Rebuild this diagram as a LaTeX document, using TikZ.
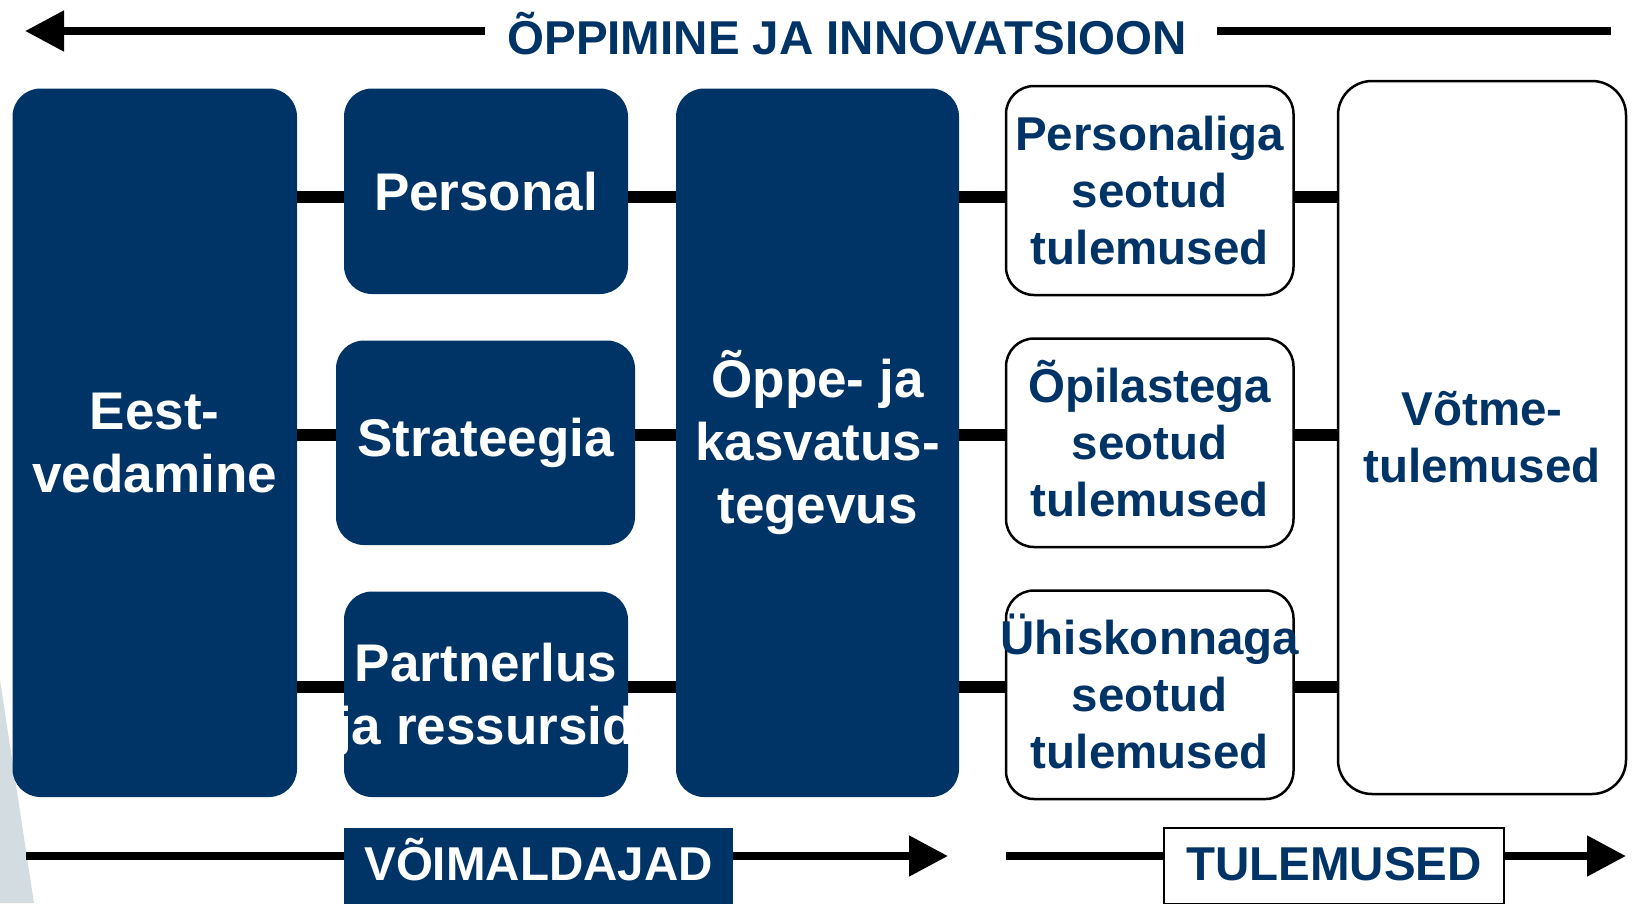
\documentclass[tikz,border=0pt]{standalone}
\usepackage{fontspec}
\setmainfont{Liberation Sans}
\usetikzlibrary{arrows.meta}
\definecolor{navy}{RGB}{0,52,102}
\definecolor{sliver}{RGB}{211,220,224}
\begin{document}
\begin{tikzpicture}[x=1pt,y=-1pt,
  darkbox/.style={fill=navy, draw=none, rounded corners=28pt, text=white, align=center, inner sep=0pt, font=\fontsize{53}{63}\selectfont\bfseries},
  whitebox/.style={fill=white, draw=black, line width=2.5pt, rounded corners=28pt, text=navy, align=center, inner sep=0pt, font=\fontsize{47.5}{57}\selectfont\bfseries},
  conn/.style={line width=12pt, draw=black},
  plainline/.style={line width=8pt, draw=black},
  arrowline/.style={line width=8pt, draw=black, -{Triangle[length=39pt,width=39pt]}},
  tag/.style={font=\fontsize{47.5}{57}\selectfont\bfseries, inner ysep=0pt, text height=34pt, text depth=6pt}
]
\useasboundingbox (0,0) rectangle (1633,903);
\fill[sliver] (0,680) -- (34,903) -- (0,903) -- cycle;

% top arrow
\coordinate (r0) at (0,31);
\coordinate (tl) at (25,31);
\coordinate (tr) at (1611,31);
\node[tag, text=navy, inner xsep=22pt, text depth=0pt] (title) at (847,37) {ÕPPIMINE JA INNOVATSIOON};
\draw[arrowline] (title.west |- r0) -- (tl);
\draw[plainline] ([xshift=8pt]title.east |- r0) -- (tr);

% boxes
\node[darkbox, minimum width=284.5pt, minimum height=708.5pt] (eest) at (154.75,442.75) {Eest-\\vedamine};
\node[darkbox, minimum width=284pt, minimum height=205.5pt] (pers) at (486,191.25) {Personal};
\node[darkbox, minimum width=299pt, minimum height=204.5pt] (strat) at (485.5,442.75) {Strateegia};
\node[darkbox, minimum width=284pt, minimum height=205.5pt, text depth=0pt] (part) at (486,694.25) {Partnerlus\\\makebox[0pt]{ja ressursid}};
\node[darkbox, minimum width=283pt, minimum height=708.5pt] (oppe) at (817.5,442.75) {Õppe- ja\\kasvatus-\\tegevus};
\node[whitebox, minimum width=287.5pt, minimum height=209pt] (w1) at (1149.75,190.5) {Personaliga\\seotud\\tulemused};
\node[whitebox, minimum width=287.5pt, minimum height=208.5pt] (w2) at (1149.75,442.75) {\smash{Õ}pilastega\\seotud\\tulemused};
\node[whitebox, minimum width=287.5pt, minimum height=208.5pt] (w3) at (1149.75,694.75) {\makebox[0pt]{\smash{Ü}hiskonnaga}\\seotud\\tulemused};
\node[whitebox, minimum width=288pt, minimum height=713pt, rounded corners=34pt] (votme) at (1482,437.5) {Võtme-\\tulemused};

% connectors
\coordinate (r1) at (0,197);
\coordinate (r2) at (0,435);
\coordinate (r3) at (0,687);
\draw[conn] (eest.east |- r1) -- (pers.west |- r1);
\draw[conn] (pers.east |- r1) -- (oppe.west |- r1);
\draw[conn] (oppe.east |- r1) -- (w1.west |- r1);
\draw[conn] (w1.east |- r1) -- (votme.west |- r1);
\draw[conn] (eest.east |- r2) -- (strat.west |- r2);
\draw[conn] (strat.east |- r2) -- (oppe.west |- r2);
\draw[conn] (oppe.east |- r2) -- (w2.west |- r2);
\draw[conn] (w2.east |- r2) -- (votme.west |- r2);
\draw[conn] (eest.east |- r3) -- (part.west |- r3);
\draw[conn] (part.east |- r3) -- (oppe.west |- r3);
\draw[conn] (oppe.east |- r3) -- (w3.west |- r3);
\draw[conn] (w3.east |- r3) -- (votme.west |- r3);

% bottom arrows
\coordinate (bl) at (26,856);
\coordinate (bt) at (948,856);
\coordinate (cl) at (1006,856);
\coordinate (ct) at (1626,856);
\draw[arrowline] (bl) -- (bt);
\draw[arrowline] (cl) -- (ct);
\node[tag, fill=navy, text=white, minimum width=389pt, minimum height=76pt] (voim) at (538.5,866) {VÕIMALDAJAD};
\node[tag, fill=white, draw=black, line width=2.5pt, text=navy, minimum width=340pt, minimum height=76pt] (tul) at (1334,866) {TULEMUSED};
\end{tikzpicture}
\end{document}
